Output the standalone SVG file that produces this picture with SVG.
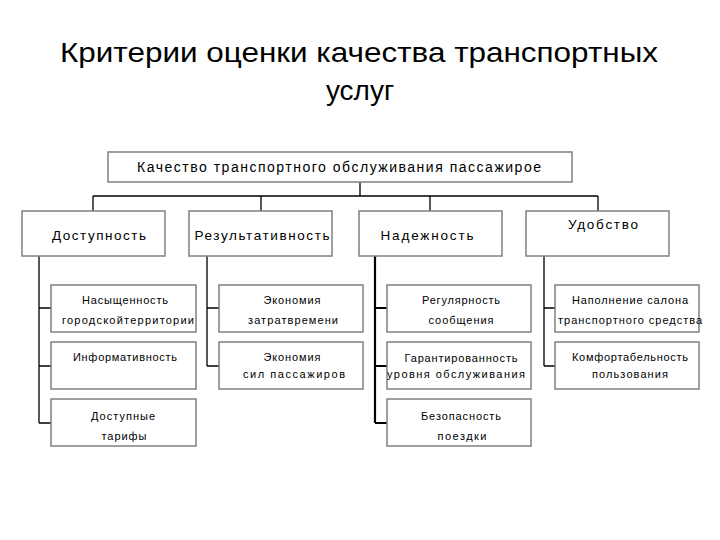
<svg xmlns="http://www.w3.org/2000/svg" width="720" height="540" viewBox="0 0 720 540">
<style>
.bg{fill:#ffffff}
.box{fill:#ffffff;stroke:#808080;stroke-width:1.5}
.ln{fill:none;stroke:#000000;stroke-width:1.3}
.thick{stroke-width:2.2}
.title{font-family:"Liberation Sans","Open Sans",sans-serif;font-size:28px;fill:#000000;text-anchor:middle}
.t1{font-family:"Liberation Sans",Arial,sans-serif;font-size:14px;fill:#000000;text-anchor:middle}
.t2{font-family:"Liberation Sans",Arial,sans-serif;font-size:13.5px;fill:#000000;text-anchor:middle}
.t3{font-family:"Liberation Sans",Arial,sans-serif;font-size:11px;fill:#000000;text-anchor:middle}
</style>
<rect class="bg" x="0" y="0" width="720" height="540"/>
<g id="title">
<text class="title" x="359" y="62" textLength="598" lengthAdjust="spacingAndGlyphs">Критерии оценки качества транспортных</text>
<text class="title" x="360" y="100">услуг</text>
</g>
<g id="connectors">
<path class="ln" d="M360 182V196M93 196H598M93 196V211M261 196V211M430 196V211M598 196V211"/>
<path class="ln" d="M39 256V423M39 308H51M39 366H51M39 423H51"/>
<path class="ln" d="M207 256V366M207 308H219M207 366H219"/>
<path class="ln thick" d="M375 256V423M375 308H387M375 366H387M375 423H387"/>
<path class="ln" d="M544 256V366M544 308H555M544 366H555"/>
</g>
<g id="root">
<rect class="box" x="108" y="152" width="464" height="30"/>
<text class="t1" x="339" y="172" textLength="404" lengthAdjust="spacing">Качество транспортного обслуживания пассажирое</text>
</g>
<g id="dostupnost">
<rect class="box" x="22" y="211" width="143" height="45"/>
<text class="t2" x="99" y="240" textLength="94" lengthAdjust="spacing">Доступность</text>
</g>
<g id="rezultativnost">
<rect class="box" x="189" y="211" width="143" height="45"/>
<text class="t2" x="262" y="240" textLength="135" lengthAdjust="spacing">Результативность</text>
</g>
<g id="nadezhnost">
<rect class="box" x="359" y="211" width="143" height="45"/>
<text class="t2" x="427" y="240" textLength="93" lengthAdjust="spacing">Надежность</text>
</g>
<g id="udobstvo">
<rect class="box" x="526" y="211" width="143" height="45"/>
<text class="t2" x="603" y="229" textLength="70" lengthAdjust="spacing">Удобство</text>
</g>
<g id="nasyshchennost">
<rect class="box" x="51" y="285" width="145" height="47"/>
<text class="t3" x="125" y="304" textLength="86" lengthAdjust="spacing">Насыщенность</text>
<text class="t3" x="128" y="324" textLength="132" lengthAdjust="spacing">городскойтерритории</text>
</g>
<g id="informativnost">
<rect class="box" x="51" y="342" width="145" height="47"/>
<text class="t3" x="125" y="361" textLength="104" lengthAdjust="spacing">Информативность</text>
</g>
<g id="tarify">
<rect class="box" x="51" y="399" width="145" height="47"/>
<text class="t3" x="123" y="420" textLength="64" lengthAdjust="spacing">Доступные</text>
<text class="t3" x="124" y="440" textLength="45" lengthAdjust="spacing">тарифы</text>
</g>
<g id="ekonomiya-vremeni">
<rect class="box" x="219" y="285" width="144" height="47"/>
<text class="t3" x="292" y="304" textLength="57" lengthAdjust="spacing">Экономия</text>
<text class="t3" x="293" y="324" textLength="90" lengthAdjust="spacing">затратвремени</text>
</g>
<g id="ekonomiya-sil">
<rect class="box" x="219" y="342" width="144" height="47"/>
<text class="t3" x="292" y="361" textLength="57" lengthAdjust="spacing">Экономия</text>
<text class="t3" x="294" y="378" textLength="102" lengthAdjust="spacing">сил пассажиров</text>
</g>
<g id="regulyarnost">
<rect class="box" x="387" y="285" width="144" height="47"/>
<text class="t3" x="461" y="304" textLength="78" lengthAdjust="spacing">Регулярность</text>
<text class="t3" x="461" y="324" textLength="65" lengthAdjust="spacing">сообщения</text>
</g>
<g id="garantirovannost">
<rect class="box" x="387" y="342" width="144" height="47"/>
<text class="t3" x="461" y="362" textLength="113" lengthAdjust="spacing">Гарантированность</text>
<text class="t3" x="456" y="378" textLength="138" lengthAdjust="spacing">уровня обслуживания</text>
</g>
<g id="bezopasnost">
<rect class="box" x="387" y="399" width="144" height="47"/>
<text class="t3" x="461" y="420" textLength="80" lengthAdjust="spacing">Безопасность</text>
<text class="t3" x="462" y="440" textLength="49" lengthAdjust="spacing">поездки</text>
</g>
<g id="napolnenie">
<rect class="box" x="555" y="285" width="144" height="47"/>
<text class="t3" x="630" y="304" textLength="116" lengthAdjust="spacing">Наполнение салона</text>
<text class="t3" x="630" y="324" textLength="144" lengthAdjust="spacing">транспортного средства</text>
</g>
<g id="komfortabelnost">
<rect class="box" x="555" y="342" width="144" height="47"/>
<text class="t3" x="630" y="361" textLength="116" lengthAdjust="spacing">Комфортабельность</text>
<text class="t3" x="630" y="378" textLength="76" lengthAdjust="spacing">пользования</text>
</g>
</svg>
